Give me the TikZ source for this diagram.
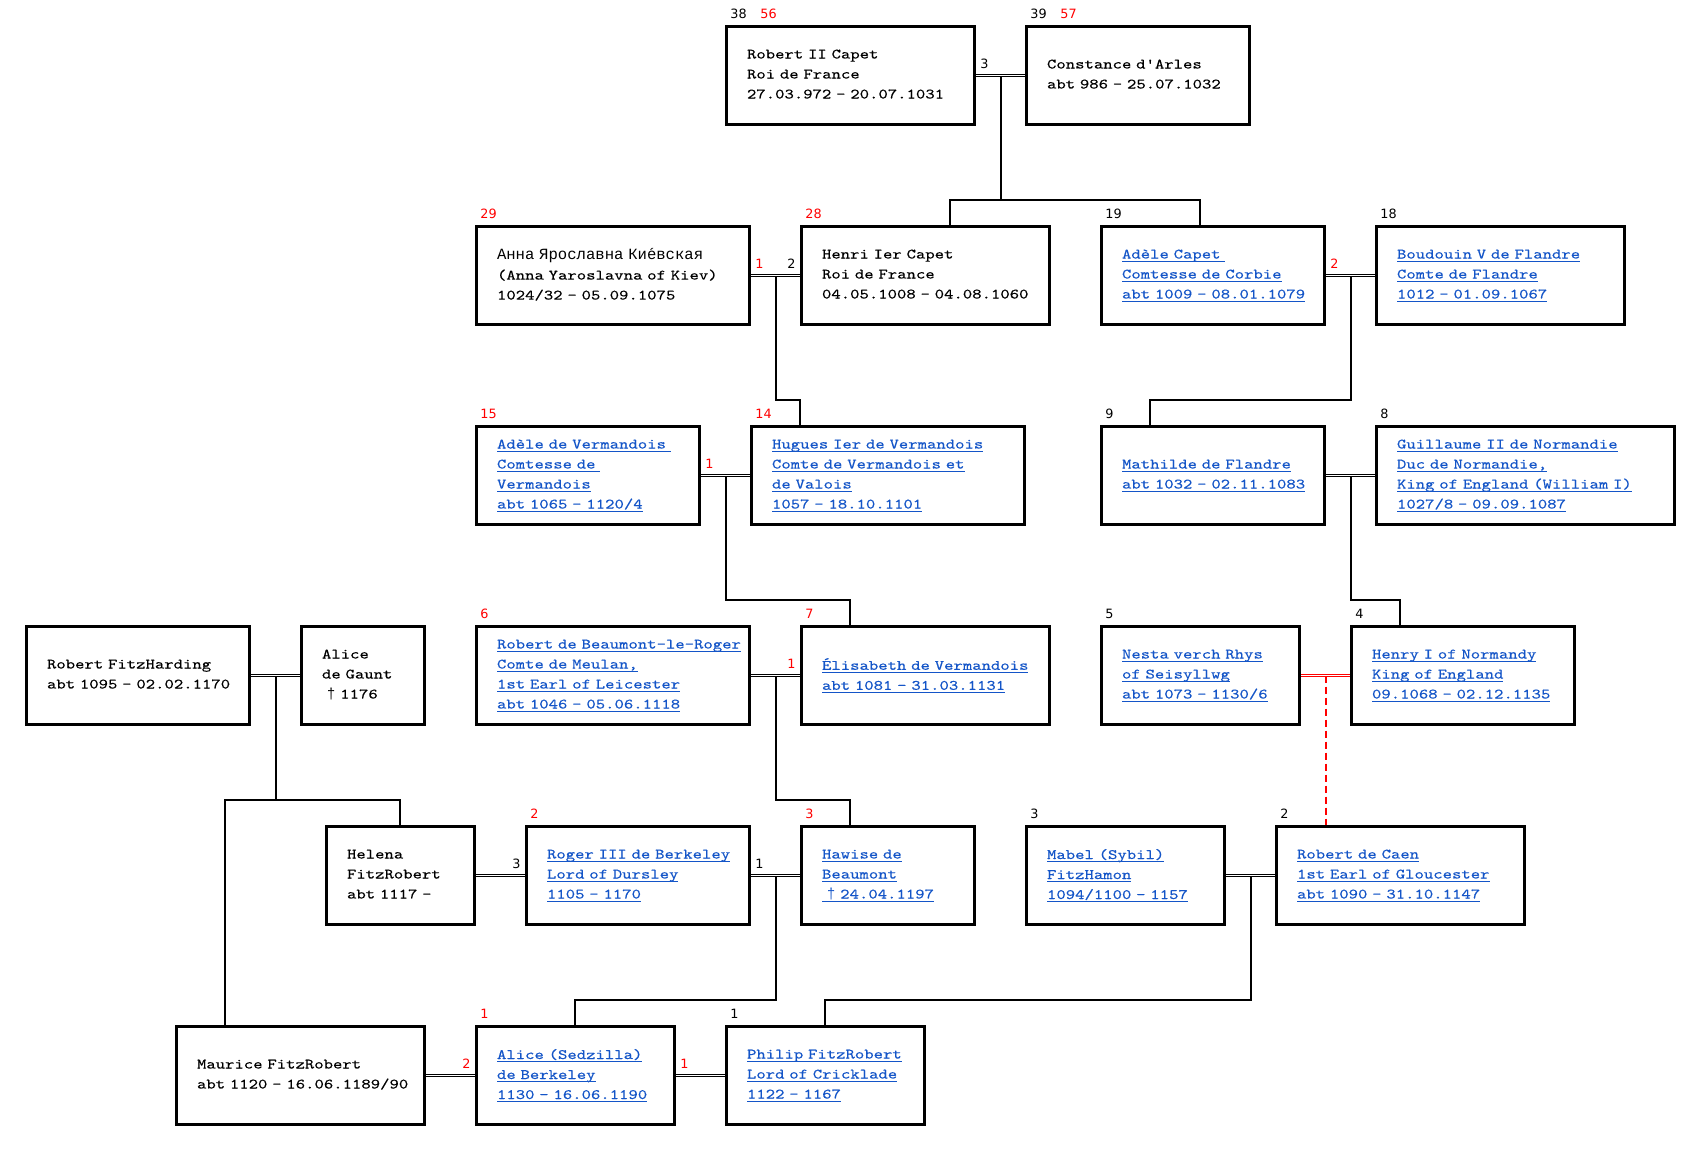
\documentclass[tikz,border=0pt]{standalone}
\usepackage{fontspec}
\setmonofont{lmmono10-regular.otf}[FakeStretch=1.24,FakeBold=0.35]
\newfontfamily\cyrmono{Liberation Mono}
\newfontfamily\labf{DejaVu Sans}
\usetikzlibrary{calc,backgrounds}
\definecolor{linkblue}{RGB}{20,85,200}
\definecolor{lred}{RGB}{255,0,0}
\newlength\ulw
\newcommand\lstrut{\rule[-1.5pt]{0pt}{6pt}}
\newcommand\cyr[1]{{\cyrmono\fontsize{7.8pt}{10pt}\selectfont #1}}
\newcommand\mydagger{{\cyrmono\fontsize{7.2pt}{10pt}\selectfont †}}
\newcommand\lk[1]{\mbox{\lstrut\settowidth\ulw{#1}\rlap{\smash{\rule[-1.6pt]{\ulw}{0.55pt}}}#1}}
\newcommand\pl[1]{\mbox{\lstrut#1}}
\newcommand\person[6]{%
  \pgfmathsetmacro\pplW{(#3-#2-2)*0.5}%
  \pgfmathsetmacro\pplT{\pplW-20.5}%
  \node[person,#5,minimum width=\pplW pt,text width=\pplT pt] (#1) at ({(#2+#3+1)/2},{#4+50.5}) {#6};}
\newcommand\toplab[5]{\node[num,text=#4,anchor=base west] (#1) at ($(#2.north west)+(#3,-8.2)$) {#5};}
\newcommand\mlabL[4]{\node[num,text=#3,anchor=base west] (#1) at ($(#2.north east)+(5.5,41.8)$) {#4};}
\newcommand\mlabR[4]{\node[num,text=#3,anchor=base east] (#1) at ($(#2.north west)+(-5.5,41.8)$) {#4};}
\tikzset{
  person/.style={draw, line width=1.5pt, rectangle, outer sep=0pt, inner xsep=10.25pt, inner ysep=1pt,
    minimum height=49pt, align=left, font=\ttfamily\fontsize{7.2pt}{10pt}\selectfont},
  linked/.style={text=linkblue},
  num/.style={inner sep=0pt, font=\labf\fontsize{6.4pt}{7pt}\selectfont},
  desc/.style={line width=1pt, line join=miter},
  marr/.style={double, line width=0.5pt, double distance=0.75pt},
  extra/.style={line width=1pt, draw=lred, dash pattern=on 3.5pt off 2pt}
}
\begin{document}
\begin{tikzpicture}[x=0.5pt,y=-0.5pt]
\useasboundingbox (0,0) rectangle (1701,1151);
% row 1
\person{rob2}{725}{975}{25}{}{\pl{Robert II Capet}\\\pl{Roi de France}\\\pl{27.03.972 - 20.07.1031}}
\person{const}{1025}{1250}{25}{}{\pl{Constance d'Arles}\\\pl{abt 986 - 25.07.1032}}
% row 2
\person{anna}{475}{750}{225}{}{\pl{\cyr{Анна Ярославна Ки\rlap{е}´вская}}\\\pl{(Anna Yaroslavna of Kiev)}\\\pl{1024/32 - 05.09.1075}}
\person{henri}{800}{1050}{225}{}{\pl{Henri Ier Capet}\\\pl{Roi de France}\\\pl{04.05.1008 - 04.08.1060}}
\person{adelec}{1100}{1325}{225}{linked}{\lk{Adèle Capet~}\\\lk{Comtesse de Corbie}\\\lk{abt 1009 - 08.01.1079}}
\person{boud}{1375}{1625}{225}{linked}{\lk{Boudouin V de Flandre}\\\lk{Comte de Flandre}\\\lk{1012 - 01.09.1067}}
% row 3
\person{adelev}{475}{700}{425}{linked}{\lk{Adèle de Vermandois~}\\\lk{Comtesse de~}\\\lk{Vermandois}\\\lk{abt 1065 - 1120/4}}
\person{hugues}{750}{1025}{425}{linked}{\lk{Hugues Ier de Vermandois}\\\lk{Comte de Vermandois et}\\\lk{de Valois}\\\lk{1057 - 18.10.1101}}
\person{mathilde}{1100}{1325}{425}{linked}{\lk{Mathilde de Flandre}\\\lk{abt 1032 - 02.11.1083}}
\person{guill}{1375}{1675}{425}{linked}{\lk{Guillaume II de Normandie}\\\lk{Duc de Normandie,}\\\lk{King of England (William I)}\\\lk{1027/8 - 09.09.1087}}
% row 4
\person{rfh}{25}{250}{625}{}{\pl{Robert FitzHarding}\\\pl{abt 1095 - 02.02.1170}}
\person{aliceg}{300}{425}{625}{}{\pl{Alice}\\\pl{de Gaunt}\\\pl{~\mydagger{} 1176}}
\person{beaum}{475}{750}{625}{linked}{\lk{Robert de Beaumont-le-Roger}\\\lk{Comte de Meulan,}\\\lk{1st Earl of Leicester}\\\lk{abt 1046 - 05.06.1118}}
\person{elis}{800}{1050}{625}{linked}{\lk{Élisabeth de Vermandois}\\\lk{abt 1081 - 31.03.1131}}
\person{nesta}{1100}{1300}{625}{linked}{\lk{Nesta verch Rhys}\\\lk{of Seisyllwg}\\\lk{abt 1073 - 1130/6}}
\person{henry}{1350}{1575}{625}{linked}{\lk{Henry I of Normandy}\\\lk{King of England}\\\lk{09.1068 - 02.12.1135}}
% row 5
\person{helena}{325}{475}{825}{}{\pl{Helena}\\\pl{FitzRobert}\\\pl{abt 1117 -}}
\person{roger}{525}{750}{825}{linked}{\lk{Roger III de Berkeley}\\\lk{Lord of Dursley}\\\lk{1105 - 1170}}
\person{hawise}{800}{975}{825}{linked}{\lk{Hawise de}\\\lk{Beaumont}\\\lk{~\mydagger{} 24.04.1197}}
\person{mabel}{1025}{1225}{825}{linked}{\lk{Mabel (Sybil)}\\\lk{FitzHamon}\\\lk{1094/1100 - 1157}}
\person{caen}{1275}{1525}{825}{linked}{\lk{Robert de Caen}\\\lk{1st Earl of Gloucester}\\\lk{abt 1090 - 31.10.1147}}
% row 6
\person{maurice}{175}{425}{1025}{}{\pl{Maurice FitzRobert}\\\pl{abt 1120 - 16.06.1189/90}}
\person{alices}{475}{675}{1025}{linked}{\lk{Alice (Sedzilla)}\\\lk{de Berkeley}\\\lk{1130 - 16.06.1190}}
\person{philip}{725}{925}{1025}{linked}{\lk{Philip FitzRobert}\\\lk{Lord of Cricklade}\\\lk{1122 - 1167}}
% generation numbers
\toplab{n1}{rob2}{3.5}{black}{38}
\toplab{n2}{rob2}{33.5}{lred}{56}
\toplab{n3}{const}{3.5}{black}{39}
\toplab{n4}{const}{33.5}{lred}{57}
\toplab{n5}{anna}{3.5}{lred}{29}
\toplab{n6}{henri}{3.5}{lred}{28}
\toplab{n7}{adelec}{3.5}{black}{19}
\toplab{n8}{boud}{3.5}{black}{18}
\toplab{n9}{adelev}{3.5}{lred}{15}
\toplab{n10}{hugues}{3.5}{lred}{14}
\toplab{n11}{mathilde}{3.5}{black}{9}
\toplab{n12}{guill}{3.5}{black}{8}
\toplab{n13}{beaum}{3.5}{lred}{6}
\toplab{n14}{elis}{3.5}{lred}{7}
\toplab{n15}{nesta}{3.5}{black}{5}
\toplab{n16}{henry}{3.5}{black}{4}
\toplab{n17}{roger}{3.5}{lred}{2}
\toplab{n18}{hawise}{3.5}{lred}{3}
\toplab{n19}{mabel}{3.5}{black}{3}
\toplab{n20}{caen}{3.5}{black}{2}
\toplab{n21}{alices}{3.5}{lred}{1}
\toplab{n22}{philip}{3.5}{black}{1}
% marriage numbers
\mlabL{k1}{rob2}{black}{3}
\mlabL{k2}{anna}{lred}{1}
\mlabR{k3}{henri}{black}{2}
\mlabL{k4}{adelec}{lred}{2}
\mlabL{k5}{adelev}{lred}{1}
\mlabR{k6}{elis}{lred}{1}
\mlabR{k7}{roger}{black}{3}
\mlabL{k8}{roger}{black}{1}
\mlabR{k9}{alices}{lred}{2}
\mlabL{k10}{alices}{lred}{1}
% connectors
\begin{scope}[on background layer]
\fill[white] (0,0) rectangle (1701,1151);
\coordinate (m1) at ($(rob2.east)!.5!(const.west)$);
\coordinate (m2) at ($(anna.east)!.5!(henri.west)$);
\coordinate (m3) at ($(adelec.east)!.5!(boud.west)$);
\coordinate (m4) at ($(adelev.east)!.5!(hugues.west)$);
\coordinate (m5) at ($(mathilde.east)!.5!(guill.west)$);
\coordinate (m6) at ($(rfh.east)!.5!(aliceg.west)$);
\coordinate (m7) at ($(beaum.east)!.5!(elis.west)$);
\coordinate (m8) at ($(nesta.east)!.5!(henry.west)$);
\coordinate (m9) at ($(roger.east)!.5!(hawise.west)$);
\coordinate (m10) at ($(mabel.east)!.5!(caen.west)$);
\draw[desc] (m1) -- ++(0,124.5) coordinate (b1) -| ($(henri.north west)+(148.5,0)$);
\draw[desc] (b1) -| ($(adelec.north west)+(98.5,0)$);
\draw[desc] (m2) -- ++(0,124.5) -| ($(hugues.north west)+(48.5,0)$);
\draw[desc] (m3) -- ++(0,124.5) -| ($(mathilde.north west)+(48.5,0)$);
\draw[desc] (m4) -- ++(0,124.5) -| ($(elis.north west)+(48.5,0)$);
\draw[desc] (m5) -- ++(0,124.5) -| ($(henry.north west)+(48.5,0)$);
\draw[desc] (m6) -- ++(0,124.5) coordinate (b6) -| ($(helena.north west)+(73.5,0)$);
\draw[desc] (b6) -| ($(maurice.north west)+(48.5,0)$);
\draw[desc] (m7) -- ++(0,124.5) -| ($(hawise.north west)+(48.5,0)$);
\draw[extra] (m8) -- (m8 |- caen.north);
\draw[desc] (m9) -- ++(0,124.5) -| ($(alices.north west)+(98.5,0)$);
\draw[desc] (m10) -- ++(0,124.5) -| ($(philip.north west)+(98.5,0)$);
\draw[marr] (rob2.east) -- (const.west);
\draw[marr] (anna.east) -- (henri.west);
\draw[marr] (adelec.east) -- (boud.west);
\draw[marr] (adelev.east) -- (hugues.west);
\draw[marr] (mathilde.east) -- (guill.west);
\draw[marr] (rfh.east) -- (aliceg.west);
\draw[marr] (beaum.east) -- (elis.west);
\draw[marr, draw=lred] (nesta.east) -- (henry.west);
\draw[marr] (helena.east) -- (roger.west);
\draw[marr] (roger.east) -- (hawise.west);
\draw[marr] (mabel.east) -- (caen.west);
\draw[marr] (maurice.east) -- (alices.west);
\draw[marr] (alices.east) -- (philip.west);
\end{scope}
\end{tikzpicture}
\end{document}
